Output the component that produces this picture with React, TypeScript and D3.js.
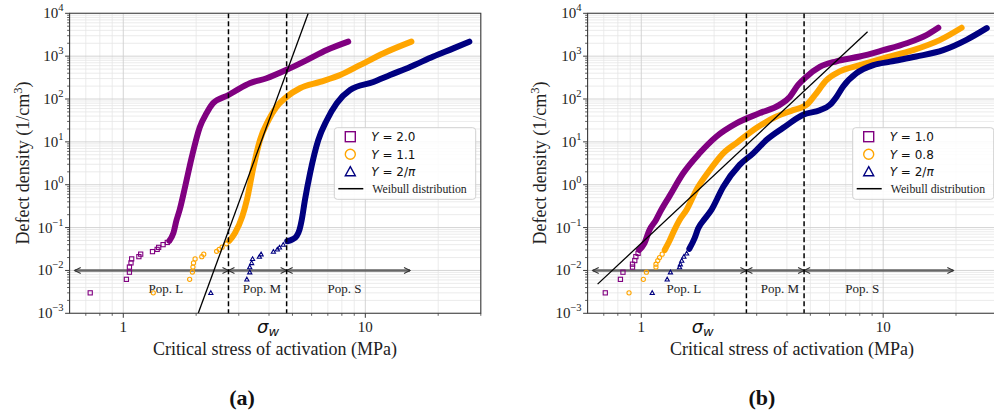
import * as d3 from 'd3';

type Pt = [number, number];

// ---- panel (a) ----
const A_PURPLE_SPARSE: Pt[] = [[0.73, 3.0e-3], [1.03, 6.2e-3], [1.06, 9.1e-3], [1.06, 1.2e-2], [1.076, 1.5e-2], [1.083, 1.86e-2], [1.16, 2.1e-2], [1.18, 2.4e-2], [1.32, 2.75e-2], [1.38, 3.1e-2], [1.4, 3.45e-2], [1.46, 4.0e-2], [1.52, 4.5e-2]];
const A_PURPLE_DENSE: Pt[] = [[1.55, 0.049], [1.61, 0.074], [1.66, 0.15], [1.71, 0.26], [1.8, 0.89], [1.92, 4.5], [2.07, 22], [2.21, 47], [2.35, 80], [2.72, 124], [3.03, 178], [3.33, 233], [3.91, 305], [4.73, 480], [5.73, 810], [6.93, 1390], [8.5, 2180]];
const A_ORANGE_SPARSE: Pt[] = [[1.33, 3.0e-3], [1.88, 6.2e-3], [1.93, 9.2e-3], [1.94, 1.2e-2], [1.95, 1.5e-2], [1.98, 1.86e-2], [2.11, 2.1e-2], [2.15, 2.4e-2], [2.43, 2.8e-2], [2.49, 3.1e-2], [2.56, 3.5e-2], [2.67, 4.2e-2]];
const A_ORANGE_DENSE: Pt[] = [[2.74, 0.049], [2.89, 0.074], [3.1, 0.18], [3.24, 0.44], [3.45, 2.6], [3.67, 11], [3.98, 32], [4.3, 66], [4.73, 112], [5.37, 178], [6.5, 250], [7.87, 363], [9.5, 616], [11.9, 1170], [15.5, 2180]];
const A_NAVY_SPARSE: Pt[] = [[2.3, 3.0e-3], [3.24, 6.2e-3], [3.33, 9.1e-3], [3.33, 1.2e-2], [3.39, 1.5e-2], [3.42, 1.86e-2], [3.65, 2.1e-2], [3.71, 2.4e-2], [4.17, 2.75e-2], [4.33, 3.1e-2], [4.42, 3.45e-2], [4.58, 4.0e-2]];
const A_NAVY_DENSE: Pt[] = [[4.76, 0.048], [5.0, 0.053], [5.2, 0.063], [5.35, 0.09], [5.46, 0.15], [5.63, 0.44], [5.91, 1.85], [6.39, 11], [6.93, 32], [7.62, 80], [8.65, 162], [10.8, 250], [12.65, 363], [15.3, 560], [19.1, 980], [23.1, 1520], [26.9, 2180]];
const A_WEIBULL: Pt[] = [[2.04, 1e-3], [5.81, 1e4]];
const A_DASHES = [2.72, 4.73];
const A_ARROWS: Pt[] = [[0.63, 2.72], [2.72, 4.73], [4.73, 15.3]];
const A_LEGEND = ['2.0', '1.1', '2/π'];
const A_SIGMA = 3.89;

// ---- panel (b) ----
const B_PURPLE_SPARSE: Pt[] = [[0.71, 3.0e-3], [0.82, 6.2e-3], [0.84, 9.1e-3], [0.92, 1.2e-2], [0.92, 1.4e-2], [0.94, 1.7e-2], [0.95, 2.1e-2], [0.97, 2.5e-2]];
const B_PURPLE_DENSE: Pt[] = [[0.98, 0.03], [1.03, 0.043], [1.08, 0.087], [1.15, 0.15], [1.21, 0.26], [1.31, 0.55], [1.49, 1.85], [1.74, 5.4], [2.04, 13.2], [2.47, 27], [3.09, 47], [3.73, 73], [4.11, 112], [4.45, 213], [4.82, 332], [5.47, 560], [6.41, 760], [8.0, 980], [10, 1380], [12.5, 2000], [15.1, 3100], [16.9, 4600]];
const B_ORANGE_SPARSE: Pt[] = [[0.89, 3.0e-3], [1.02, 6.2e-3], [1.05, 9.1e-3], [1.15, 1.2e-2], [1.15, 1.4e-2], [1.17, 1.7e-2], [1.19, 2.0e-2], [1.22, 2.4e-2]];
const B_ORANGE_DENSE: Pt[] = [[1.25, 0.03], [1.31, 0.05], [1.37, 0.087], [1.44, 0.15], [1.54, 0.26], [1.69, 0.76], [1.92, 2.2], [2.18, 5.4], [2.51, 10], [2.99, 21], [3.62, 39], [4.24, 55], [4.82, 73], [5.22, 123], [5.83, 275], [6.62, 440], [8.0, 615], [10, 890], [13.3, 1380], [17.2, 2400], [21.1, 4600]];
const B_NAVY_SPARSE: Pt[] = [[1.11, 3.0e-3], [1.28, 6.2e-3], [1.32, 9.1e-3], [1.44, 1.2e-2], [1.45, 1.4e-2], [1.47, 1.7e-2], [1.5, 2.1e-2], [1.54, 2.5e-2]];
const B_NAVY_DENSE: Pt[] = [[1.58, 0.032], [1.66, 0.056], [1.72, 0.096], [1.83, 0.16], [1.95, 0.26], [2.18, 0.89], [2.55, 2.9], [2.9, 5.4], [3.29, 11], [3.85, 21], [4.67, 43], [5.47, 55], [6.02, 73], [6.41, 112], [6.83, 196], [7.76, 400], [9.1, 615], [10.7, 745], [13.7, 980], [17.7, 1380], [22.1, 2400], [26.8, 4500]];
const B_WEIBULL: Pt[] = [[0.66, 4.8e-3], [8.62, 3720]];
const B_DASHES = [2.72, 4.71];
const B_ARROWS: Pt[] = [[0.63, 2.72], [2.72, 4.71], [4.71, 19.5]];
const B_LEGEND = ['1.0', '0.8', '2/π'];
const B_SIGMA = 1.76;

// shared
const POP_LABELS = ['Pop. L', 'Pop. M', 'Pop. S'];
const POP_LABEL_X = [1.5, 3.74, 8.2];
const POP_LABEL_Y = 3.0e-3;
const ARROW_Y = 1e-2;
const X_DOMAIN: Pt = [0.6, 30];
const Y_DOMAIN: Pt = [1e-3, 1e4];
const X_MAJOR = [1, 10];
const X_MINOR = [0.7, 0.8, 0.9, 2, 3, 4, 5, 6, 7, 8, 9, 20, 30];
const Y_EXP = [-3, -2, -1, 0, 1, 2, 3, 4];

const COLORS = ['#800080', '#FFA500', '#000080'];
const SHAPES = ['square', 'circle', 'triangle'];
const SERIF = "'Liberation Serif', 'DejaVu Serif', serif";
const SANS = "'DejaVu Sans', sans-serif";

const TOP = 13.3;
const BOTTOM = 313.3;

function Marker({ shape, x, y, s, color, sw }: { shape: string; x: number; y: number; s: number; color: string; sw: number }) {
  if (shape === 'square') {
    return <rect x={x - s / 2} y={y - s / 2} width={s} height={s} fill="none" stroke={color} strokeWidth={sw} />;
  }
  if (shape === 'circle') {
    return <circle cx={x} cy={y} r={s / 2} fill="none" stroke={color} strokeWidth={sw} />;
  }
  const h = s * 0.5;
  return (
    <path
      d={`M${x},${y - h} L${x + h},${y + h * 0.8} L${x - h},${y + h * 0.8} Z`}
      fill="none"
      stroke={color}
      strokeWidth={sw}
    />
  );
}

interface PanelProps {
  id: string;
  x0: number;
  x1: number;
  sparse: Pt[][];
  dense: Pt[][];
  weibull: Pt[];
  dashes: number[];
  arrows: Pt[];
  legend: string[];
  legendBox: { x: number; y: number; w: number; h: number };
  sigma: number;
  ylabelX: number;
  xlabelX: number;
  tag: string;
  tagX: number;
}

function Panel(p: PanelProps) {
  const x = d3.scaleLog().domain(X_DOMAIN).range([p.x0, p.x1]);
  const y = d3.scaleLog().domain(Y_DOMAIN).range([BOTTOM, TOP]);
  const line = d3
    .line<Pt>()
    .x((d) => x(d[0]))
    .y((d) => y(d[1]))
    .curve(d3.curveMonotoneX);
  const straight = d3
    .line<Pt>()
    .x((d) => x(d[0]))
    .y((d) => y(d[1]));

  const yMinor: number[] = [];
  Y_EXP.slice(0, -1).forEach((e) => {
    for (let k = 2; k <= 9; k++) yMinor.push(k * Math.pow(10, e));
  });

  const ay = y(ARROW_Y);
  const lb = p.legendBox;

  return (
    <g>
      <defs>
        <clipPath id={`clip-${p.id}`}>
          <rect x={p.x0} y={TOP} width={p.x1 - p.x0} height={BOTTOM - TOP} />
        </clipPath>
      </defs>

      {/* grid */}
      <g>
        {yMinor.map((v) => (
          <line key={`ym${v}`} x1={p.x0} x2={p.x1} y1={y(v)} y2={y(v)} stroke="#e6e6e6" strokeWidth={0.8} />
        ))}
        {X_MINOR.map((v) => (
          <line key={`xm${v}`} x1={x(v)} x2={x(v)} y1={TOP} y2={BOTTOM} stroke="#e6e6e6" strokeWidth={0.8} />
        ))}
        {Y_EXP.map((e) => (
          <line key={`yM${e}`} x1={p.x0} x2={p.x1} y1={y(Math.pow(10, e))} y2={y(Math.pow(10, e))} stroke="#cfcfcf" strokeWidth={0.9} />
        ))}
        {X_MAJOR.map((v) => (
          <line key={`xM${v}`} x1={x(v)} x2={x(v)} y1={TOP} y2={BOTTOM} stroke="#cfcfcf" strokeWidth={0.9} />
        ))}
      </g>

      {/* population arrows */}
      <g>
        {p.arrows.map(([a, b], i) => {
          const xa = x(a);
          const xb = x(b);
          return (
            <g key={`ar${i}`}>
              <line x1={xa} x2={xb} y1={ay} y2={ay} stroke="#666" strokeWidth={2.4} />
              <path
                d={`M${xa + 6},${ay - 3} L${xa},${ay} L${xa + 6},${ay + 3} M${xb - 6},${ay - 3} L${xb},${ay} L${xb - 6},${ay + 3}`}
                fill="none"
                stroke="#333"
                strokeWidth={1.1}
              />
            </g>
          );
        })}
        {POP_LABELS.map((t, i) => (
          <text key={t} x={x(POP_LABEL_X[i])} y={y(POP_LABEL_Y)} textAnchor="middle" fontFamily={SERIF} fontSize={13} fill="#222">
            {t}
          </text>
        ))}
      </g>

      {/* data */}
      <g clipPath={`url(#clip-${p.id})`}>
        {p.dense.map((d, i) => (
          <path key={`dn${i}`} d={line(d) ?? ''} fill="none" stroke={COLORS[i]} strokeWidth={6} strokeLinecap="round" strokeLinejoin="round" />
        ))}
        {p.sparse.map((s, i) =>
          s.map((d, j) => <Marker key={`sp${i}-${j}`} shape={SHAPES[i]} x={x(d[0])} y={y(d[1])} s={4.2} color={COLORS[i]} sw={1.1} />),
        )}
        <path d={straight(p.weibull) ?? ''} fill="none" stroke="#000" strokeWidth={1.3} />
      </g>

      {/* dashed boundaries */}
      {p.dashes.map((v) => (
        <line key={`ds${v}`} x1={x(v)} x2={x(v)} y1={TOP} y2={BOTTOM} stroke="#000" strokeWidth={1.5} strokeDasharray="5,3" />
      ))}

      {/* spines */}
      <path d={`M${p.x0},${TOP} H${p.x1} V${BOTTOM} H${p.x0} Z`} fill="none" stroke="#3a3a3a" strokeWidth={1.1} />

      {/* y ticks */}
      {Y_EXP.map((e) => (
        <g key={`yt${e}`}>
          <line x1={p.x0 - 4.5} x2={p.x0} y1={y(Math.pow(10, e))} y2={y(Math.pow(10, e))} stroke="#3a3a3a" />
          <text x={p.x0 - 6} y={y(Math.pow(10, e)) + 5} textAnchor="end" fontFamily={SERIF} fontSize={15} fill="#222">
            10
            <tspan dy={-7} fontSize={10.5}>
              {e < 0 ? `\u2212${-e}` : `${e}`}
            </tspan>
          </text>
        </g>
      ))}
      {yMinor.map((v) => (
        <line key={`ymt${v}`} x1={p.x0 - 2.5} x2={p.x0} y1={y(v)} y2={y(v)} stroke="#3a3a3a" strokeWidth={0.8} />
      ))}

      {/* x ticks */}
      {X_MAJOR.map((v) => (
        <g key={`xt${v}`}>
          <line x1={x(v)} x2={x(v)} y1={BOTTOM} y2={BOTTOM + 4.5} stroke="#3a3a3a" />
          <text x={x(v)} y={BOTTOM + 19} textAnchor="middle" fontFamily={SERIF} fontSize={15} fill="#222">
            {v}
          </text>
        </g>
      ))}
      {X_MINOR.filter((v) => x(v) <= p.x1 + 0.5).map((v) => (
        <line key={`xmt${v}`} x1={x(v)} x2={x(v)} y1={BOTTOM} y2={BOTTOM + 2.5} stroke="#3a3a3a" strokeWidth={0.8} />
      ))}
      <text x={x(p.sigma) - 9} y={BOTTOM + 19.5} fontFamily={SANS} fontStyle="italic" fontSize={18} fill="#111">
        σ<tspan dy={3} fontSize={13}>w</tspan>
      </text>

      {/* axis labels */}
      <text x={p.xlabelX} y={355} textAnchor="middle" fontFamily={SERIF} fontSize={18} fill="#222">
        Critical stress of activation (MPa)
      </text>
      <text
        transform={`translate(${p.ylabelX},${163}) rotate(-90)`}
        textAnchor="middle"
        fontFamily={SERIF}
        fontSize={18}
        fill="#222"
      >
        Defect density (1/cm
        <tspan dy={-7} fontSize={12.5}>3</tspan>
        <tspan dy={7}>)</tspan>
      </text>

      {/* legend */}
      <g>
        <rect x={lb.x} y={lb.y} width={lb.w} height={lb.h} rx={3} fill="#fff" fillOpacity={0.85} stroke="#d0d0d0" strokeWidth={1} />
        {p.legend.map((t, i) => {
          const cy = lb.y + 9 + i * 17.5;
          return (
            <g key={`lg${i}`}>
              <Marker shape={SHAPES[i]} x={lb.x + 16} y={cy} s={10} color={COLORS[i]} sw={1.4} />
              <text x={lb.x + 37} y={cy + 4.3} fontFamily={SANS} fontSize={12} fill="#111">
                <tspan fontStyle="italic">Y</tspan>
                {' = '}
                {t.endsWith('π') ? (
                  <>
                    {t.slice(0, -1)}
                    <tspan fontStyle="italic">π</tspan>
                  </>
                ) : (
                  t
                )}
              </text>
            </g>
          );
        })}
        <line x1={lb.x + 4} x2={lb.x + 29} y1={lb.y + 61} y2={lb.y + 61} stroke="#000" strokeWidth={1.5} />
        <text x={lb.x + 38} y={lb.y + 65} fontFamily={SERIF} fontSize={11.8} fill="#222">
          Weibull distribution
        </text>
      </g>

      <text x={p.tagX} y={405} textAnchor="middle" fontFamily={SERIF} fontWeight="bold" fontSize={22} fill="#111">
        {p.tag}
      </text>
    </g>
  );
}

export default function App() {
  return (
    <svg
      width={994}
      height={419}
      viewBox="0 0 994 419"
      style={{ position: 'absolute', left: 0, top: 0, display: 'block', background: '#fff' }}
    >
      <rect width={994} height={419} fill="#fff" />
      <Panel
        id="a"
        x0={69.6}
        x1={480.8}
        sparse={[A_PURPLE_SPARSE, A_ORANGE_SPARSE, A_NAVY_SPARSE]}
        dense={[A_PURPLE_DENSE, A_ORANGE_DENSE, A_NAVY_DENSE]}
        weibull={A_WEIBULL}
        dashes={A_DASHES}
        arrows={A_ARROWS}
        legend={A_LEGEND}
        legendBox={{ x: 334.3, y: 127.7, w: 141.4, h: 71.6 }}
        sigma={A_SIGMA}
        ylabelX={29}
        xlabelX={275}
        tag="(a)"
        tagX={242}
      />
      <Panel
        id="b"
        x0={587.6}
        x1={998.6}
        sparse={[B_PURPLE_SPARSE, B_ORANGE_SPARSE, B_NAVY_SPARSE]}
        dense={[B_PURPLE_DENSE, B_ORANGE_DENSE, B_NAVY_DENSE]}
        weibull={B_WEIBULL}
        dashes={B_DASHES}
        arrows={B_ARROWS}
        legend={B_LEGEND}
        legendBox={{ x: 852.7, y: 127.7, w: 141, h: 71.6 }}
        sigma={B_SIGMA}
        ylabelX={546}
        xlabelX={792}
        tag="(b)"
        tagX={762}
      />
    </svg>
  );
}
